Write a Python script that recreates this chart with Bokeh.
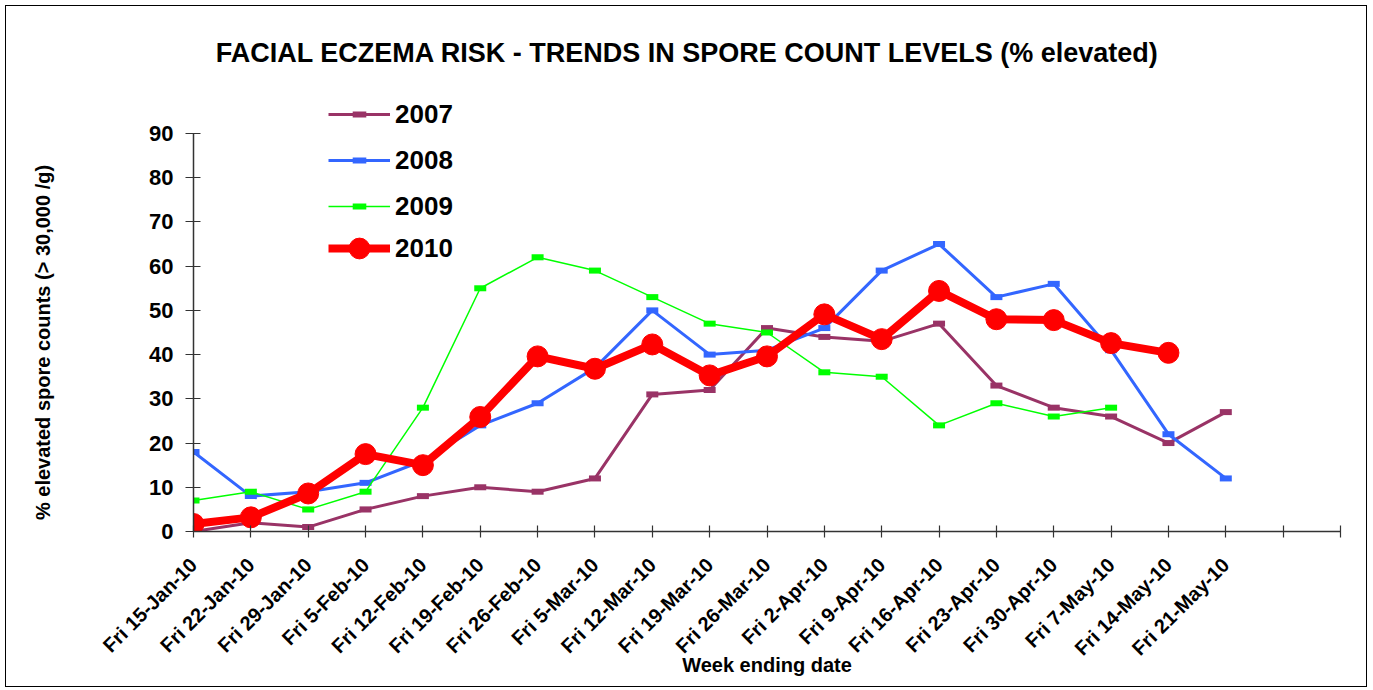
from math import pi
from bokeh.plotting import figure
from bokeh.layouts import row
from bokeh.models import Legend, LegendItem, Label, FixedTicker, Range1d
from bokeh.embed import file_html
from bokeh.resources import INLINE

# ---- data ----
dates = ["Fri 15-Jan-10", "Fri 22-Jan-10", "Fri 29-Jan-10", "Fri 5-Feb-10",
         "Fri 12-Feb-10", "Fri 19-Feb-10", "Fri 26-Feb-10", "Fri 5-Mar-10",
         "Fri 12-Mar-10", "Fri 19-Mar-10", "Fri 26-Mar-10", "Fri 2-Apr-10",
         "Fri 9-Apr-10", "Fri 16-Apr-10", "Fri 23-Apr-10", "Fri 30-Apr-10",
         "Fri 7-May-10", "Fri 14-May-10", "Fri 21-May-10"]
extra_slots = 2  # empty category slots at the right end of the axis

y2007 = [0, 2, 1, 5, 8, 10, 9, 12, 31, 32, 46, 44, 43, 47, 33, 28, 26, 20, 27]
y2008 = [18, 8, 9, 11, 16, 24, 29, 37, 50, 40, 41, 46, 59, 65, 53, 56, 41, 22, 12]
y2009 = [7, 9, 5, 9, 28, 55, 62, 59, 53, 47, 45, 36, 35, 24, 29, 26, 28]
y2010 = [1.7, 3.2, 8.6, 17.5, 15.0, 25.9, 39.6, 36.8, 42.3, 35.3, 39.6, 49.1,
         43.5, 54.4, 48.0, 47.8, 42.6, 40.4]

y_ticks = [0, 10, 20, 30, 40, 50, 60, 70, 80, 90]
y_max_tick = 90

FONT = "Liberation Sans"

# ---- layout (page pixels) ----
OX, OY = 6, 6          # page position of the layout's top-left corner
H = 680                # canvas height (page 6..686)
LW = 80                # width of the narrow figure that holds the y-axis title
n_slots = len(dates) + extra_slots
last_slot = n_slots - 1
FL = 193               # frame left = x of first slot
FB = 531               # frame bottom = y of value 0
Y90 = 133              # y of value 90
XR = 1340              # x of last slot (frame right)
RIGHT = 1366           # canvas right edge
px_per_y = (FB - Y90) / y_max_tick
FH = FB - OY
FW = XR - FL

# ---- narrow left figure: y-axis title (its frame is aligned with the main frame) ----
lf = figure(width=LW, height=H, output_backend="svg", toolbar_location=None,
            x_axis_location=None, y_axis_location=None, min_border=0)
lf.outline_line_color = None
lf.grid.visible = False
lf.add_layout(Label(x=42 - OX, y=FB - 342, x_units="screen", y_units="screen",
                    text="% elevated spore counts (> 30,000 /g)", angle=pi / 2,
                    text_font=FONT, text_font_style="bold", text_font_size="20px",
                    text_align="center", text_baseline="middle", text_color="black"))

# ---- main figure ----
p = figure(frame_width=FW, frame_height=FH, output_backend="svg", toolbar_location=None,
           x_range=Range1d(0, last_slot), y_range=Range1d(0, FH / px_per_y),
           min_border_left=FL - OX - LW, min_border_right=RIGHT - XR,
           min_border_top=0, min_border_bottom=(OY + H) - FB)
p.outline_line_color = None
p.xgrid.visible = False
p.ygrid.visible = False
p.background_fill_color = "white"
p.border_fill_color = "white"

xa = p.xaxis[0]
xa.ticker = FixedTicker(ticks=list(range(n_slots)))
xa.major_label_overrides = {i: (dates[i] if i < len(dates) else "") for i in range(n_slots)}
xa.major_label_orientation = pi / 4
xa.major_label_text_font = FONT
xa.major_label_text_font_style = "bold"
xa.major_label_text_font_size = "20px"
xa.major_label_text_color = "black"
xa.major_label_standoff = 24
xa.major_tick_in = 6
xa.major_tick_out = 6
xa.minor_tick_line_color = None
xa.axis_line_color = "#333333"
xa.axis_line_width = 1.5
xa.major_tick_line_color = "#333333"
xa.major_tick_line_width = 1.2
xa.axis_label = "Week ending date"
xa.axis_label_text_font = FONT
xa.axis_label_text_font_style = "bold"
xa.axis_label_text_font_size = "20px"
xa.axis_label_text_color = "black"
xa.axis_label_standoff = -16

ya = p.yaxis[0]
ya.bounds = (0, y_max_tick)
ya.ticker = FixedTicker(ticks=y_ticks)
ya.major_label_text_font = FONT
ya.major_label_text_font_style = "bold"
ya.major_label_text_font_size = "22px"
ya.major_label_text_color = "black"
ya.major_label_standoff = 12
ya.major_tick_in = 7
ya.major_tick_out = 8
ya.minor_tick_line_color = None
ya.axis_line_color = "#333333"
ya.axis_line_width = 1.5
ya.major_tick_line_color = "#333333"
ya.major_tick_line_width = 1.2

def xs(vals):
    return list(range(len(vals)))

l07 = p.line(xs(y2007), y2007, line_color="#993366", line_width=3)
m07 = p.scatter(xs(y2007), y2007, marker="dash", size=12, line_color="#993366", line_width=6)
l08 = p.line(xs(y2008), y2008, line_color="#3366FF", line_width=3)
m08 = p.scatter(xs(y2008), y2008, marker="dash", size=12, line_color="#3366FF", line_width=6)
l09 = p.line(xs(y2009), y2009, line_color="#00FF00", line_width=1.5)
m09 = p.scatter(xs(y2009), y2009, marker="dash", size=12, line_color="#00FF00", line_width=6)
l10 = p.line(xs(y2010), y2010, line_color="#FF0000", line_width=8)
m10 = p.scatter(xs(y2010), y2010, marker="circle", size=21, fill_color="#FF0000", line_color="#FF0000")

leg_common = dict(label_text_font=FONT, label_text_font_style="bold",
                  label_text_font_size="26px", label_text_color="black",
                  glyph_width=62, label_standoff=5, padding=0, margin=0,
                  border_line_alpha=0, background_fill_alpha=0)
leg1 = Legend(items=[LegendItem(label="2007", renderers=[l07, m07]),
                     LegendItem(label="2008", renderers=[l08, m08]),
                     LegendItem(label="2009", renderers=[l09, m09])],
              glyph_height=34, spacing=12, location=(328 - FL, FB - 223), **leg_common)
leg2 = Legend(items=[LegendItem(label="2010", renderers=[l10, m10])],
              glyph_height=52, spacing=0, location=(328 - FL, FB - 274), **leg_common)
p.add_layout(leg1)
p.add_layout(leg2)

p.add_layout(Label(x=687 - FL, y=FB - 52, x_units="screen", y_units="screen",
                   text="FACIAL ECZEMA RISK - TRENDS IN SPORE COUNT LEVELS (% elevated)",
                   text_font=FONT, text_font_style="bold", text_font_size="27px",
                   text_align="center", text_baseline="middle", text_color="black"))

layout = row(lf, p, spacing=0,
             styles={"margin": f"{OY}px 0 0 {OX}px", "outline": "1.5px solid #000"})

open("out.html", "w").write(file_html(layout, INLINE))
